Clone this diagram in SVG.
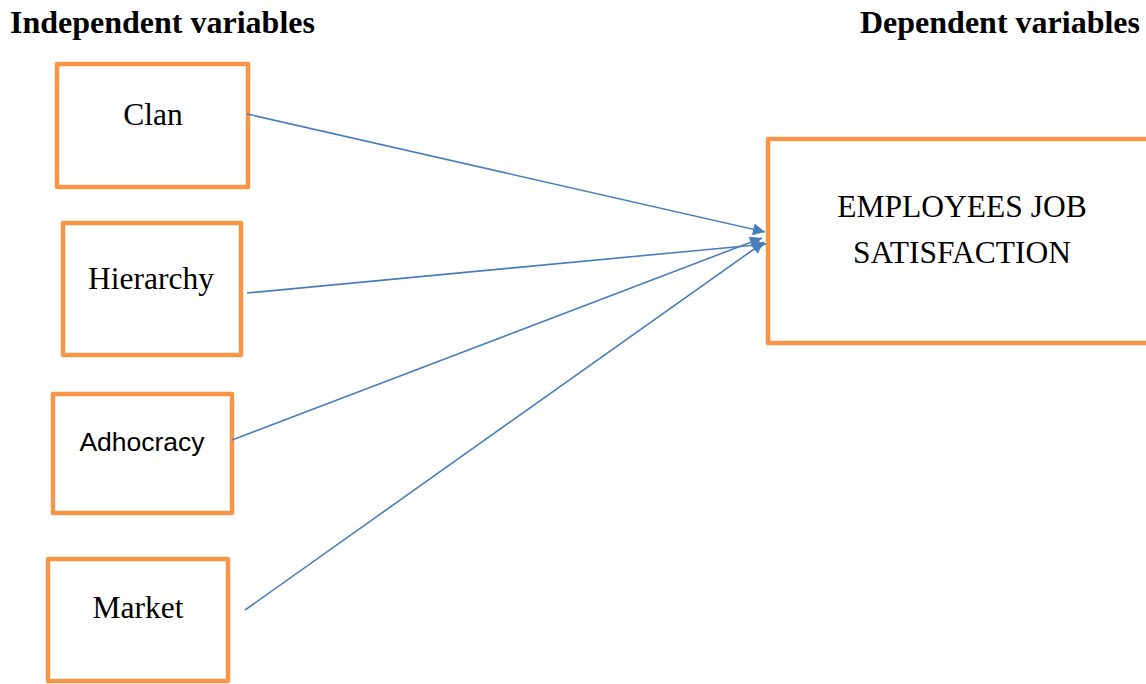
<svg xmlns="http://www.w3.org/2000/svg" width="1146" height="684" viewBox="0 0 1146 684">
<style>
.box{fill:#fff;stroke:#F79646;stroke-width:4.5;stroke-linejoin:round}
.t{font-family:"Liberation Serif","Times New Roman",serif;font-size:31.5px;fill:#000}
.h{font-family:"Liberation Serif","Times New Roman",serif;font-size:32px;font-weight:bold;fill:#000}
.s{font-family:"Liberation Sans",Arial,sans-serif;font-size:26.5px;fill:#000}
.c{stroke:#4A7EBB;stroke-width:1.6;fill:none;marker-end:url(#ah)}
</style>
<defs>
<marker id="ah" viewBox="0 0 10 10" refX="10" refY="5" markerWidth="15" markerHeight="12" markerUnits="userSpaceOnUse" orient="auto">
<path d="M0,0 L10,5 L0,10 z" fill="#4A7EBB"/>
</marker>
</defs>
<rect width="1146" height="684" fill="#fff"/>
<text class="h" x="10" y="33">Independent variables</text>
<text class="h" x="860" y="33">Dependent variables</text>
<g id="clan"><rect class="box" x="57" y="64" width="191" height="123"/><text class="t" x="153" y="125" text-anchor="middle">Clan</text></g>
<g id="hierarchy"><rect class="box" x="63" y="223" width="178" height="132"/><text class="t" x="151" y="289" text-anchor="middle">Hierarchy</text></g>
<g id="adhocracy"><rect class="box" x="53" y="394" width="179" height="119"/><text class="s" x="142" y="451" text-anchor="middle">Adhocracy</text></g>
<g id="market"><rect class="box" x="48" y="559" width="180" height="122"/><text class="t" x="138" y="618" text-anchor="middle">Market</text></g>
<g id="jobsat"><rect class="box" x="768" y="139" width="390" height="204"/><text class="t" x="962" y="217" text-anchor="middle">EMPLOYEES JOB</text><text class="t" x="962" y="263" text-anchor="middle">SATISFACTION</text></g>
<g id="connectors">
<line class="c" x1="247" y1="114" x2="765" y2="232"/>
<line class="c" x1="247" y1="293" x2="766" y2="244"/>
<line class="c" x1="232" y1="440" x2="762" y2="238"/>
<line class="c" x1="245" y1="610" x2="764" y2="242"/>
</g>
</svg>
